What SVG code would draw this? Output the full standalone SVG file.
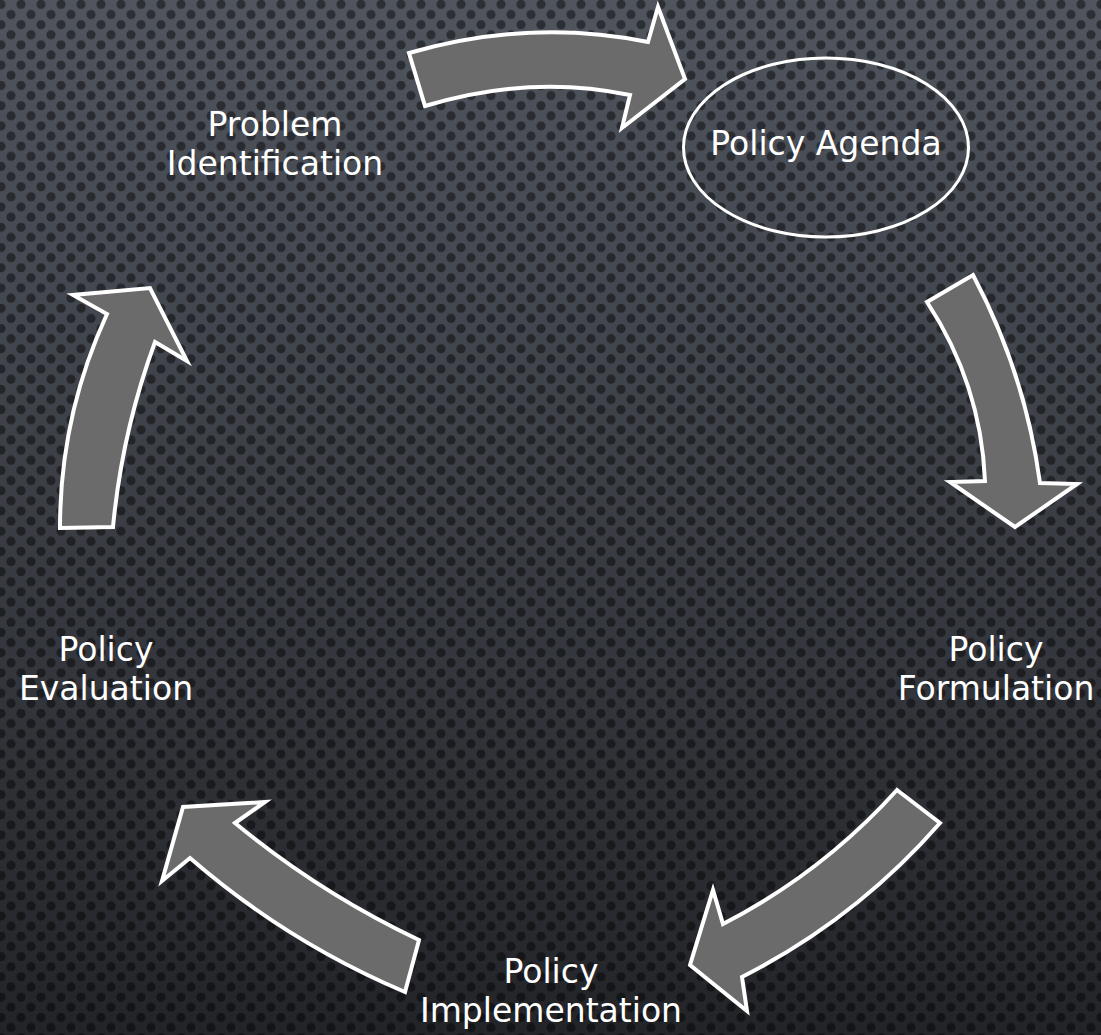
<svg xmlns="http://www.w3.org/2000/svg" width="1101" height="1035" viewBox="0 0 1101 1035">
  <defs>
    <linearGradient id="bg" x1="0" y1="0" x2="0" y2="1">
      <stop offset="0" stop-color="#50555e"/>
      <stop offset="0.5" stop-color="#3a3d44"/>
      <stop offset="1" stop-color="#222428"/>
    </linearGradient>
    <pattern id="dots" patternUnits="userSpaceOnUse" x="0" y="0" width="20" height="20.26">
      <circle cx="1" cy="4.4" r="4.6"/>
      <circle cx="21" cy="4.4" r="4.6"/>
      <circle cx="11" cy="14.53" r="4.6"/>
    </pattern>
    <style>
      .arrow { fill: #6b6b6b; stroke: #ffffff; stroke-width: 4; stroke-linejoin: miter; stroke-miterlimit: 10; }
      .lbl { font-family: "DejaVu Sans", "Liberation Sans", sans-serif; font-size: 33px; fill: #ffffff; text-anchor: middle; }
    </style>
  </defs>
  <rect width="1101" height="1035" fill="url(#bg)"/>
  <rect width="1101" height="1035" fill="url(#dots)" fill-opacity="0.45"/>

  <g id="connectors">
    <path class="arrow" d="M409,53 Q530,18 648,42 L658,7 L685,79 L622,128 L630,95 Q530,74 425,106 Z"/>
    <path class="arrow" d="M927,302 L973,275 Q1025,373 1040,483 L1077,484 L1015,527 L950,482 L985,481 Q981,384 927,302 Z"/>
    <path class="arrow" d="M897,790 L940,823 Q856,919 742,977 L747,1011 L690,965 L713,890 L723,924 Q822,873 897,790 Z"/>
    <path class="arrow" d="M419,940 Q320,893 235,823 L265,802 L183,807 L162,881 L190,858 Q287,942 405,992 Z"/>
    <path class="arrow" d="M60,528 L113,527 Q122,432 155,342 L187,361 L150,288 L73,295 L107,314 Q60,416 60,528 Z"/>
  </g>

  <g id="node-problem">
    <text class="lbl" x="275" y="136">Problem</text>
    <text class="lbl" x="275" y="175">Identification</text>
  </g>
  <g id="node-agenda">
    <ellipse cx="826" cy="147.5" rx="142.5" ry="89.5" fill="none" stroke="#ffffff" stroke-width="3"/>
    <text class="lbl" x="826" y="155">Policy Agenda</text>
  </g>
  <g id="node-formulation">
    <text class="lbl" x="996" y="661">Policy</text>
    <text class="lbl" x="996" y="700">Formulation</text>
  </g>
  <g id="node-implementation">
    <text class="lbl" x="551" y="983">Policy</text>
    <text class="lbl" x="551" y="1022">Implementation</text>
  </g>
  <g id="node-evaluation">
    <text class="lbl" x="106" y="661">Policy</text>
    <text class="lbl" x="106" y="700">Evaluation</text>
  </g>
</svg>
